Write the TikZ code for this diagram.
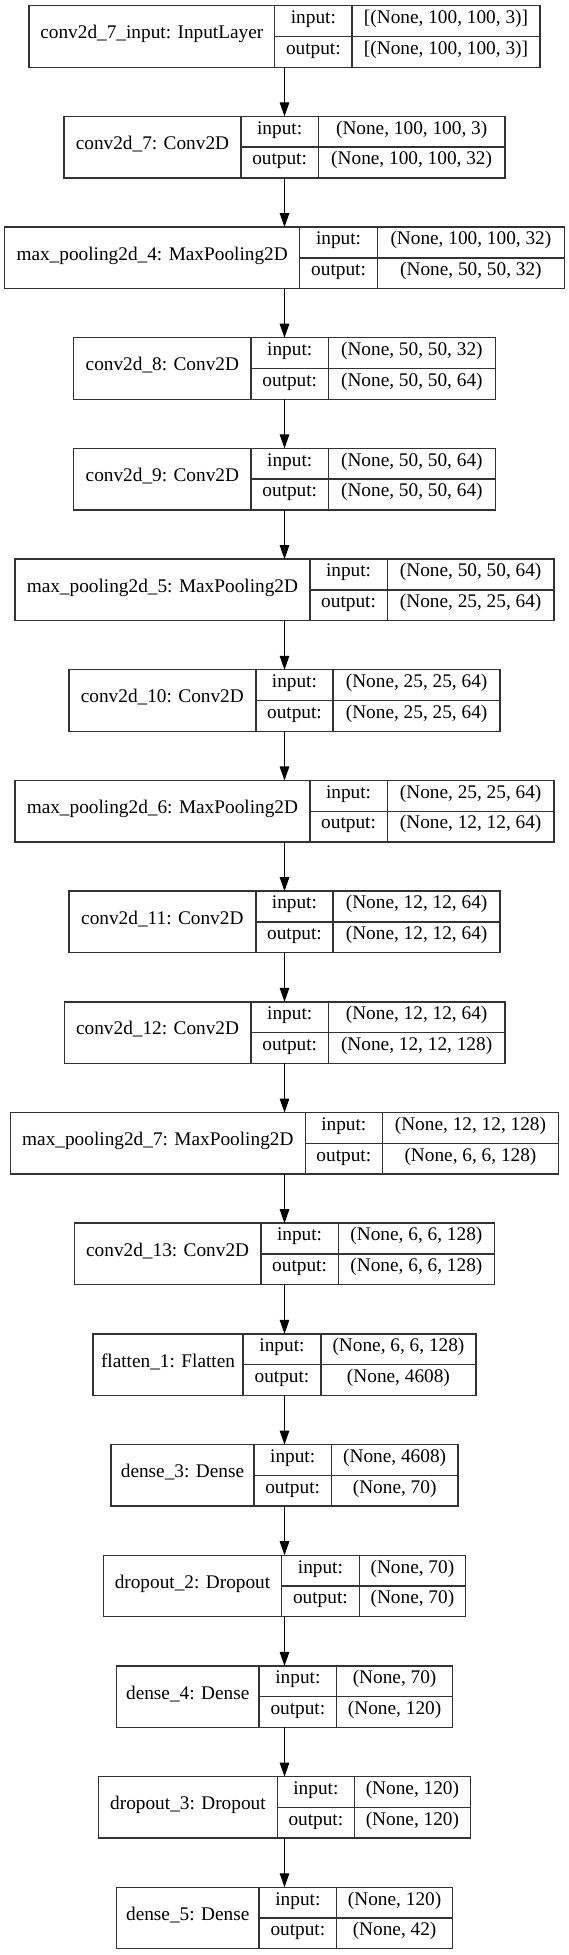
\documentclass[tikz,border=0pt]{standalone}
\usepackage{fontspec}
\setmainfont{Liberation Serif}
\usetikzlibrary{arrows.meta}
\definecolor{boxgray}{HTML}{333333}
\tikzset{
  kerasframe/.style={draw=boxgray, line width=1.4pt, inner sep=0pt, outer sep=0pt, minimum height=61.5pt},
  cellline/.style={draw=boxgray, line width=1.4pt},
  celltext/.style={inner sep=0pt, text height=0.7em, text depth=0.22em, font=\fontsize{19.3}{22}\selectfont},
  flowarrow/.style={draw=black, line width=1.2pt, -{Triangle[length=14pt,width=9.5pt]}}
}
\newcommand{\kbox}[8]{%
  \pgfmathsetmacro{\yt}{5.7+110.68*#2}%
  \pgfmathsetmacro{\yb}{\yt+61.5}%
  \pgfmathsetmacro{\ym}{\yt+30.75}%
  \pgfmathsetmacro{\xr}{569-#3}%
  \pgfmathsetmacro{\bw}{569-2*#3}%
  \node[kerasframe, minimum width=\bw pt] (#1) at (284.5,\ym) {};
  \draw[cellline] (#4,\yt) -- (#4,\yb);
  \draw[cellline] (#5,\yt) -- (#5,\yb);
  \draw[cellline] (#4,\ym) -- (\xr,\ym);
  \node[celltext] (#1-name) at ({(#3+#4)/2},\ym) {#6};
  \node[celltext] (#1-inl) at ({(#4+#5)/2},{\yt+15.375}) {input:};
  \node[celltext] (#1-outl) at ({(#4+#5)/2},{\yt+46.125}) {output:};
  \node[celltext] (#1-inv) at ({(#5+\xr)/2},{\yt+15.375}) {#7};
  \node[celltext] (#1-outv) at ({(#5+\xr)/2},{\yt+46.125}) {#8};
}
\begin{document}
\begin{tikzpicture}[x=1pt,y=-1pt]
\fill[white] (0,0) rectangle (569,1955);
\useasboundingbox (0,0) rectangle (569,1955);
\kbox{L0}{0}{29}{274.7}{352}{conv2d\_7\_input: InputLayer}{[(None, 100, 100, 3)]}{[(None, 100, 100, 3)]}
\kbox{L1}{1}{63.9}{241}{318.2}{conv2d\_7: Conv2D}{(None, 100, 100, 3)}{(None, 100, 100, 32)}
\kbox{L2}{2}{4.6}{299.7}{377.4}{max\_pooling2d\_4: MaxPooling2D}{(None, 100, 100, 32)}{(None, 50, 50, 32)}
\kbox{L3}{3}{73.7}{251}{328.4}{conv2d\_8: Conv2D}{(None, 50, 50, 32)}{(None, 50, 50, 64)}
\kbox{L4}{4}{73.7}{251}{328.4}{conv2d\_9: Conv2D}{(None, 50, 50, 64)}{(None, 50, 50, 64)}
\kbox{L5}{5}{14.9}{309.9}{387.2}{max\_pooling2d\_5: MaxPooling2D}{(None, 50, 50, 64)}{(None, 25, 25, 64)}
\kbox{L6}{6}{68.9}{255.8}{333.1}{conv2d\_10: Conv2D}{(None, 25, 25, 64)}{(None, 25, 25, 64)}
\kbox{L7}{7}{14.9}{309.9}{387.2}{max\_pooling2d\_6: MaxPooling2D}{(None, 25, 25, 64)}{(None, 12, 12, 64)}
\kbox{L8}{8}{68.9}{255.8}{333.1}{conv2d\_11: Conv2D}{(None, 12, 12, 64)}{(None, 12, 12, 64)}
\kbox{L9}{9}{64.2}{251}{328.4}{conv2d\_12: Conv2D}{(None, 12, 12, 64)}{(None, 12, 12, 128)}
\kbox{L10}{10}{10.5}{305.2}{382.4}{max\_pooling2d\_7: MaxPooling2D}{(None, 12, 12, 128)}{(None, 6, 6, 128)}
\kbox{L11}{11}{74.4}{260.9}{338.2}{conv2d\_13: Conv2D}{(None, 6, 6, 128)}{(None, 6, 6, 128)}
\kbox{L12}{12}{92.9}{243.1}{320.8}{flatten\_1: Flatten}{(None, 6, 6, 128)}{(None, 4608)}
\kbox{L13}{13}{111}{254}{331.3}{dense\_3: Dense}{(None, 4608)}{(None, 70)}
\kbox{L14}{14}{103.4}{281.6}{359.2}{dropout\_2: Dropout}{(None, 70)}{(None, 70)}
\kbox{L15}{15}{116.5}{259}{336.7}{dense\_4: Dense}{(None, 70)}{(None, 120)}
\kbox{L16}{16}{98.7}{277.2}{354.5}{dropout\_3: Dropout}{(None, 120)}{(None, 120)}
\kbox{L17}{17}{116.5}{259}{336.7}{dense\_5: Dense}{(None, 120)}{(None, 42)}
\foreach \a/\b in {L0/L1,L1/L2,L2/L3,L3/L4,L4/L5,L5/L6,L6/L7,L7/L8,L8/L9,L9/L10,L10/L11,L11/L12,L12/L13,L13/L14,L14/L15,L15/L16,L16/L17}
  \draw[flowarrow] (\a.south) -- (\b.north);
\end{tikzpicture}
\end{document}
